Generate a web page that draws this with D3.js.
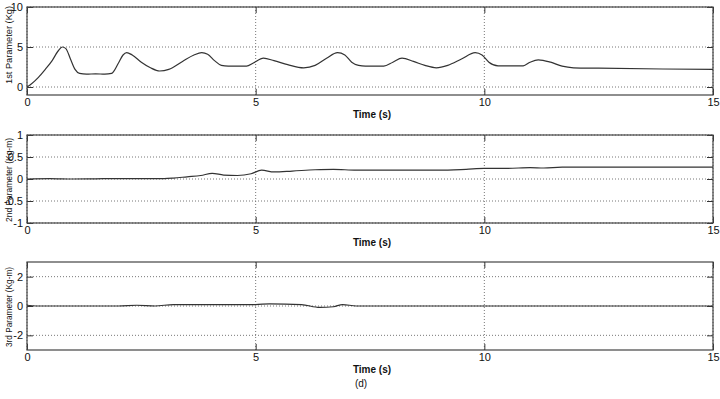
<!DOCTYPE html>
<html lang="en">
<head>
<meta charset="UTF-8">
<title>Parameters</title>
<script src="https://d3js.org/d3.v7.min.js"></script>
<style>
  body { margin: 0; background: #fff; }
  text { font-family: "Liberation Sans", Arial, sans-serif; fill: #111; }
</style>
</head>
<body>
<script>
// time ticks shared by all three panels
var timeTicks = [0, 5, 10, 15];

// 1st parameter (Kg)
var p1Time = [0, 0.1, 0.25, 0.4, 0.55, 0.68, 0.77, 0.85, 0.95, 1.05, 1.15, 1.3, 1.5, 1.7, 1.85, 2.0, 2.1, 2.18, 2.3, 2.5, 2.7, 2.9, 3.1, 3.4, 3.65, 3.82, 3.95, 4.1, 4.25, 4.4, 4.8, 4.95, 5.17, 5.4, 5.7, 6.05, 6.3, 6.55, 6.79, 6.95, 7.1, 7.25, 7.4, 7.8, 8.0, 8.2, 8.45, 8.7, 8.95, 9.2, 9.5, 9.8, 9.95, 10.1, 10.3, 10.85, 11.0, 11.18, 11.45, 11.7, 11.95, 12.5, 13.9, 15];
var p1Value = [0, 0.4, 1.2, 2.2, 3.3, 4.5, 5.0, 4.8, 3.5, 2.2, 1.7, 1.6, 1.65, 1.6, 1.7, 3.0, 4.0, 4.3, 4.0, 3.1, 2.4, 2.0, 2.2, 3.2, 4.0, 4.3, 4.1, 3.3, 2.7, 2.6, 2.6, 3.0, 3.6, 3.3, 2.8, 2.4, 2.7, 3.6, 4.3, 4.0, 3.1, 2.7, 2.6, 2.6, 3.1, 3.6, 3.2, 2.7, 2.4, 2.7, 3.5, 4.3, 4.0, 3.1, 2.65, 2.65, 3.1, 3.4, 3.1, 2.6, 2.4, 2.35, 2.25, 2.2];
var p1Ticks = [0, 5, 10];

// 2nd parameter (Kg-m)
var p2Time = [0, 0.5, 1, 1.5, 2, 2.5, 3, 3.2, 3.5, 3.8, 4.05, 4.3, 4.6, 4.9, 5.13, 5.4, 5.8, 6.3, 6.7, 7.2, 8, 9, 9.6, 10, 10.5, 11, 11.3, 11.7, 12.5, 15];
var p2Value = [0, 0.01, 0, 0.005, 0.01, 0.01, 0.01, 0.02, 0.05, 0.08, 0.13, 0.09, 0.08, 0.12, 0.2, 0.16, 0.18, 0.21, 0.22, 0.2, 0.2, 0.2, 0.22, 0.24, 0.24, 0.26, 0.25, 0.27, 0.27, 0.27];
var p2Ticks = [-1, -0.5, 0, 0.5, 1];

// 3rd parameter (Kg-m)
var p3Time = [0, 0.2, 2, 2.4, 2.8, 3.2, 4, 4.5, 5, 5.3, 6, 6.4, 6.7, 6.9, 7.2, 8, 10, 15];
var p3Value = [0.05, 0, 0, 0.05, 0, 0.1, 0.1, 0.1, 0.1, 0.15, 0.1, -0.1, -0.05, 0.1, 0, 0, 0, 0];
var p3Ticks = [-2, 0, 2];

var width = 720, height = 399;
var left = 27, right = 713;

var panels = [
  { time: p1Time, value: p1Value, ticks: p1Ticks, domain: [-1, 10], top: 7, bottom: 95, label: "1st Parameter  (Kg)", labelLen: 78, labelY: 45 },
  { time: p2Time, value: p2Value, ticks: p2Ticks, domain: [-1, 1], top: 135, bottom: 223, label: "2nd Parameter  (Kg-m)", labelLen: 84, labelY: 180 },
  { time: p3Time, value: p3Value, ticks: p3Ticks, domain: [-3, 3], top: 262, bottom: 350, label: "3rd Parameter  (Kg-m)", labelLen: 80, labelY: 307 }
];

var svg = d3.select("body").append("svg")
  .attr("width", width)
  .attr("height", height);

var x = d3.scaleLinear().domain([0, 15]).range([left, right]);

panels.forEach(function (p) {
  var y = d3.scaleLinear().domain(p.domain).range([p.bottom, p.top]);
  var g = svg.append("g");

  // dotted grid
  g.selectAll("line.hgrid").data(p.ticks).enter().append("line")
    .attr("x1", left).attr("x2", right)
    .attr("y1", d => y(d)).attr("y2", d => y(d))
    .style("stroke", "#777").style("stroke-width", 1).style("stroke-dasharray", "1,2");
  g.selectAll("line.vgrid").data(timeTicks).enter().append("line")
    .attr("x1", d => x(d)).attr("x2", d => x(d))
    .attr("y1", p.top).attr("y2", p.bottom)
    .style("stroke", "#777").style("stroke-width", 1).style("stroke-dasharray", "1,2");

  // inner ticks on all four sides
  var axB = g.append("g").attr("transform", "translate(0," + p.bottom + ")")
    .call(d3.axisBottom(x).tickValues(timeTicks).tickSizeInner(-6).tickSizeOuter(0).tickPadding(3).tickFormat(d => String(d)));
  var axT = g.append("g").attr("transform", "translate(0," + p.top + ")")
    .call(d3.axisTop(x).tickValues(timeTicks).tickSizeInner(-6).tickSizeOuter(0).tickFormat(""));
  var axL = g.append("g").attr("transform", "translate(" + left + ",0)")
    .call(d3.axisLeft(y).tickValues(p.ticks).tickSizeInner(-6).tickSizeOuter(0).tickPadding(4).tickFormat(d => String(d)));
  var axR = g.append("g").attr("transform", "translate(" + right + ",0)")
    .call(d3.axisRight(y).tickValues(p.ticks).tickSizeInner(-6).tickSizeOuter(0).tickFormat(""));
  [axB, axT, axL, axR].forEach(function (a) {
    a.select(".domain").remove();
    a.selectAll(".tick line").style("stroke", "#333");
    a.selectAll("text").style("font-size", "11px").style("fill", "#111")
      .style("font-family", "'Liberation Sans', Arial, sans-serif");
  });

  // box
  g.append("rect")
    .attr("x", left).attr("y", p.top)
    .attr("width", right - left).attr("height", p.bottom - p.top)
    .style("fill", "none").style("stroke", "#444").style("stroke-width", 1.2);

  // series line
  var pts = p.time.map((t, i) => [t, p.value[i]]);
  g.append("path").datum(pts)
    .attr("d", d3.line().x(d => x(d[0])).y(d => y(d[1])).curve(d3.curveMonotoneX))
    .style("fill", "none").style("stroke", "#333").style("stroke-width", 1.2);

  // labels
  g.append("text")
    .attr("x", (left + right) / 2 + 2).attr("y", p.bottom + 23)
    .attr("text-anchor", "middle")
    .style("font-size", "10px").style("font-weight", "bold")
    .text("Time (s)");
  g.append("text")
    .attr("transform", "translate(12," + p.labelY + ") rotate(-90)")
    .attr("text-anchor", "middle")
    .attr("textLength", p.labelLen)
    .attr("lengthAdjust", "spacingAndGlyphs")
    .style("font-size", "9px")
    .text(p.label);
});

svg.append("text")
  .attr("x", 361).attr("y", 387)
  .attr("text-anchor", "middle")
  .style("font-size", "10px")
  .text("(d)");
</script>
</body>
</html>
